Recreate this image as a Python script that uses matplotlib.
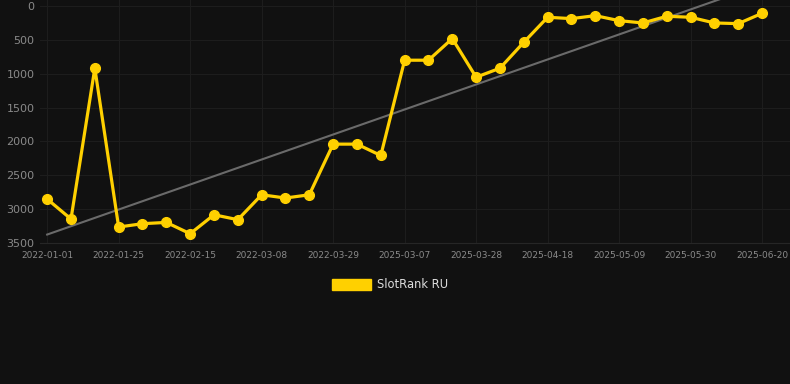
"""SlotRank RU rank history, dark theme."""

import numpy as np
import matplotlib
matplotlib.use("Agg")
import matplotlib.pyplot as plt
from matplotlib.patches import Patch

# dates of each sample (only every third one is labelled)
dates = [
    "2022-01-01", "2022-01-09", "2022-01-17", "2022-01-25", "2022-02-01",
    "2022-02-08", "2022-02-15", "2022-02-22", "2022-03-01", "2022-03-08",
    "2022-03-15", "2022-03-22", "2022-03-29", "2022-04-05", "2025-02-28",
    "2025-03-07", "2025-03-14", "2025-03-21", "2025-03-28", "2025-04-04",
    "2025-04-11", "2025-04-18", "2025-04-25", "2025-05-02", "2025-05-09",
    "2025-05-16", "2025-05-23", "2025-05-30", "2025-06-06", "2025-06-13",
    "2025-06-20",
]
ranks = [
    2851, 3146, 919, 3264, 3215, 3196, 3363, 3083, 3156, 2788,
    2836, 2788, 2040, 2040, 2208, 801, 801, 482, 1052, 919,
    536, 167, 187, 143, 217, 251, 152, 167, 251, 261,
    108,
]
y_ticks = [0, 500, 1000, 1500, 2000, 2500, 3000, 3500]
series_name = "SlotRank RU"

BG = "#111111"
GOLD = "#FFD000"
GRID = "#1d1d1d"

fig = plt.figure(figsize=(7.9, 3.84), dpi=100, facecolor=BG)
ax = fig.add_axes([40 / 790, 141 / 384, 750 / 790, 243 / 384], facecolor=BG)

x = np.arange(len(ranks))

# trend line (least squares over the series)
coef = np.polyfit(x, ranks, 1)
ax.plot(x, np.polyval(coef, x), color="#6a6a6a", lw=1.5, zorder=2)

ax.plot(x, ranks, color=GOLD, lw=2.3, marker="o", markersize=7,
        solid_joinstyle="miter", zorder=3)

ax.set_xlim(-0.3, 31.17)
ax.set_ylim(3500, -88)
ax.set_yticks(y_ticks)
ax.set_xticks(x[::3])
ax.set_xticklabels(dates[::3])

ax.grid(True, color=GRID, lw=0.8)
ax.set_axisbelow(True)
for side in ("top", "right", "left"):
    ax.spines[side].set_visible(False)
ax.spines["bottom"].set_color("#262626")
ax.tick_params(axis="y", length=0, pad=4, labelsize=8, labelcolor="#8a8a8a")
ax.tick_params(axis="x", length=0, pad=6, labelsize=6.5, labelcolor="#8a8a8a")

handle = Patch(facecolor=GOLD, edgecolor=GOLD)
fig.legend([handle], [series_name], loc="center", bbox_to_anchor=(0.494, 0.258),
           frameon=False, handlelength=3.4, handleheight=1.0, handletextpad=0.5,
           labelcolor="#dddddd", prop={"size": 8.3})

fig.savefig("out.png", dpi=100, facecolor=BG)
